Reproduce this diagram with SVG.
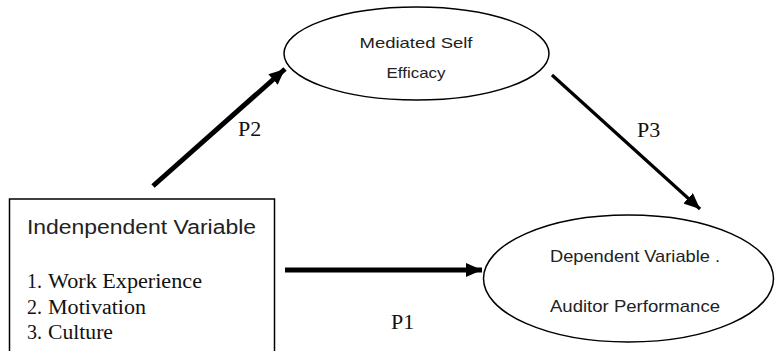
<svg xmlns="http://www.w3.org/2000/svg" width="775" height="351" viewBox="0 0 775 351">
<style>
.shape{fill:#fff;stroke:#000;stroke-width:1.5}
.sans{font-family:"Liberation Sans",Arial,sans-serif;fill:#222}
.serif{font-family:"Liberation Serif","Times New Roman",serif;fill:#111}
.conn{stroke:#000;fill:none}
</style>
<defs>
<marker id="ah" markerUnits="userSpaceOnUse" viewBox="0 0 16 14" refX="16" refY="7" markerWidth="16" markerHeight="14" orient="auto">
<path d="M0,0 L16,7 L0,14 Z" fill="#000"/>
</marker>
</defs>
<rect width="775" height="351" fill="#fff"/>
<g id="connectors">
<line class="conn" x1="153" y1="186" x2="285" y2="69" stroke-width="5" marker-end="url(#ah)"/>
<line class="conn" x1="552" y1="75" x2="700" y2="209" stroke-width="3.2" marker-end="url(#ah)"/>
<line class="conn" x1="285" y1="270" x2="482" y2="270" stroke-width="5" marker-end="url(#ah)"/>
<text class="serif" x="238" y="136" font-size="22">P2</text>
<text class="serif" x="637" y="137" font-size="22">P3</text>
<text class="serif" x="391" y="329" font-size="22">P1</text>
</g>
<g id="independent">
<rect class="shape" x="9.5" y="199" width="265" height="160"/>
<text class="sans" x="27" y="234" font-size="20" textLength="229" lengthAdjust="spacingAndGlyphs">Indenpendent Variable</text>
<text class="serif" font-size="20" y="288"><tspan x="27">1.</tspan><tspan x="48" textLength="154" lengthAdjust="spacingAndGlyphs">Work Experience</tspan></text>
<text class="serif" font-size="20" y="314"><tspan x="27">2.</tspan><tspan x="48" textLength="98" lengthAdjust="spacingAndGlyphs">Motivation</tspan></text>
<text class="serif" font-size="20" y="339"><tspan x="27">3.</tspan><tspan x="48" textLength="65" lengthAdjust="spacingAndGlyphs">Culture</tspan></text>
</g>
<g id="mediator">
<ellipse class="shape" cx="416.5" cy="53.5" rx="132.5" ry="46.5"/>
<text class="sans" x="416" y="48" font-size="14.5" text-anchor="middle" textLength="113" lengthAdjust="spacingAndGlyphs">Mediated Self</text>
<text class="sans" x="416" y="78" font-size="14.5" text-anchor="middle" textLength="59" lengthAdjust="spacingAndGlyphs">Efficacy</text>
</g>
<g id="dependent">
<ellipse class="shape" cx="628.5" cy="278.5" rx="145" ry="63.5"/>
<text class="sans" x="635" y="262" font-size="17" text-anchor="middle" textLength="170" lengthAdjust="spacingAndGlyphs">Dependent Variable .</text>
<text class="sans" x="635" y="312" font-size="17" text-anchor="middle" textLength="170" lengthAdjust="spacingAndGlyphs">Auditor Performance</text>
</g>
</svg>
